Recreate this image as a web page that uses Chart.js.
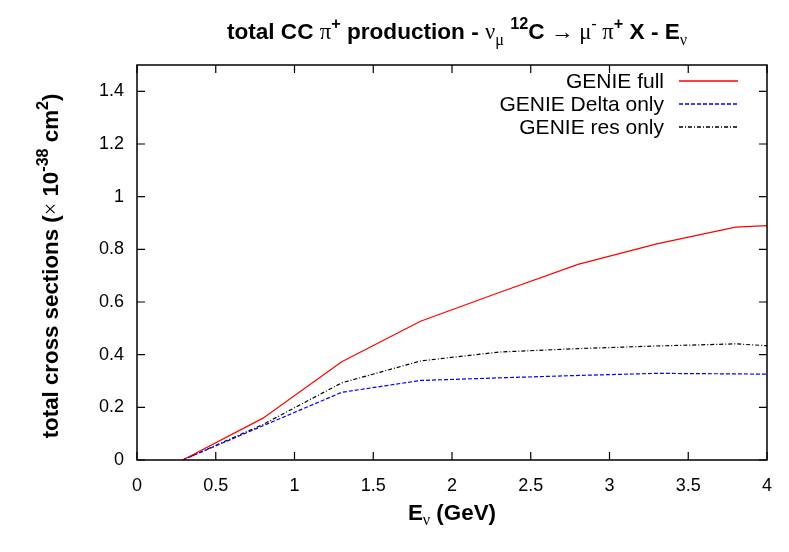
<!DOCTYPE html>
<html><head><meta charset="utf-8">
<script src="https://cdn.jsdelivr.net/npm/chart.js@4/dist/chart.umd.min.js"></script>
<style>html,body{margin:0;padding:0;background:#fff}#wrap{width:789px;height:552px}</style>
</head><body><div id="wrap"><canvas id="c" width="789" height="552"></canvas></div>
<script>
const energies = [0.29, 0.8, 1.3, 1.8, 2.3, 2.8, 3.3, 3.8, 4.0];
const genieFull = [0, 0.159, 0.373, 0.527, 0.636, 0.743, 0.821, 0.884, 0.890];
const genieDelta = [0, 0.130, 0.257, 0.302, 0.312, 0.321, 0.329, 0.327, 0.326];
const genieRes = [0, 0.135, 0.293, 0.376, 0.410, 0.423, 0.433, 0.441, 0.434];
const seriesLabels = ['GENIE full', 'GENIE Delta only', 'GENIE res only'];
const seriesColors = ['#ff0000', '#0000ff', '#000000'];
const seriesDashes = [[], [4,2], [4,2,1,2]];
const xTicks = [0, 0.5, 1, 1.5, 2, 2.5, 3, 3.5, 4];
const yTicks = [0, 0.2, 0.4, 0.6, 0.8, 1, 1.2, 1.4];

const SANS = '"Liberation Sans", Arial, Helvetica, sans-serif';
const SERIF = '"Liberation Serif", "Times New Roman", serif';

function pts(ys){ return energies.map((x,i)=>({x:x,y:ys[i]})); }

function fontFor(r,size){
  const s = (r[1]==='sup'||r[1]==='sub') ? size*0.72 : size;
  return (r[2]?'bold ':'') + s.toFixed(1)+'px '+(r[3]?SERIF:SANS);
}
function richWidth(ctx, runs, size){
  let w=0;
  runs.forEach(r=>{ ctx.font = fontFor(r,size); w+=ctx.measureText(r[0]).width; });
  return w;
}
function drawRich(ctx, runs, size, cx, cy){
  const total = richWidth(ctx, runs, size);
  let x = cx - total/2;
  ctx.textBaseline='middle'; ctx.textAlign='left'; ctx.fillStyle='#000';
  runs.forEach(r=>{
    ctx.font = fontFor(r,size);
    let dy = 0;
    if(r[1]==='sup') dy = -size*0.38;
    if(r[1]==='sub') dy = size*0.32;
    ctx.fillText(r[0], x, cy+dy);
    x += ctx.measureText(r[0]).width;
  });
}

const titleRuns = [
  ['total CC ','n',true,false],['π','n',false,true],['+','sup',true,false],
  [' production - ','n',true,false],['ν','n',false,true],['μ','sub',false,true],
  [' ','n',true,false],['12','sup',true,false],['C ','n',true,false],['→','n',false,true],
  [' μ','n',false,true],['-','sup',false,false],[' π','n',false,true],['+','sup',true,false],
  [' X - E','n',true,false],['ν','sub',false,true]
];
const yTitleRuns = [
  ['total cross sections (','n',true,false],['×','n',false,true],[' 10','n',true,false],
  ['-38','sup',true,false],[' cm','n',true,false],['2','sup',true,false],[')','n',true,false]
];
const xTitleRuns = [['E','n',true,false],['ν','sub',false,true],[' (GeV)','n',true,false]];

const decor = {
  id:'decor',
  afterDraw(chart){
    const ctx = chart.ctx, a = chart.chartArea;
    const xs = chart.scales.x, ys = chart.scales.y;
    ctx.save();
    ctx.strokeStyle='#000'; ctx.lineWidth=1.5;
    ctx.strokeRect(a.left, a.top, a.right-a.left, a.bottom-a.top);
    ctx.lineWidth=1.2;
    const L=8;
    ctx.beginPath();
    xTicks.forEach(v=>{ const p=xs.getPixelForValue(v);
      ctx.moveTo(p,a.bottom); ctx.lineTo(p,a.bottom-L);
      ctx.moveTo(p,a.top); ctx.lineTo(p,a.top+L); });
    yTicks.forEach(v=>{ const p=ys.getPixelForValue(v);
      ctx.moveTo(a.left,p); ctx.lineTo(a.left+L,p);
      ctx.moveTo(a.right,p); ctx.lineTo(a.right-L,p); });
    ctx.stroke();
    drawRich(ctx, titleRuns, 22.6, 457, 33);
    drawRich(ctx, xTitleRuns, 22.4, 452, 514);
    ctx.save();
    ctx.translate(52, 266);
    ctx.rotate(-Math.PI/2);
    drawRich(ctx, yTitleRuns, 22.3, 0, 0);
    ctx.restore();
    const rowsY=[81,104,127];
    seriesLabels.forEach((lab,i)=>{
      ctx.font='21px '+SANS; ctx.textAlign='right'; ctx.textBaseline='middle'; ctx.fillStyle='#000';
      ctx.fillText(lab, 664, rowsY[i]+1);
      ctx.strokeStyle=seriesColors[i]; ctx.lineWidth=1.3; ctx.setLineDash(seriesDashes[i]);
      ctx.beginPath(); ctx.moveTo(679,rowsY[i]); ctx.lineTo(738,rowsY[i]); ctx.stroke();
      ctx.setLineDash([]);
    });
    ctx.restore();
  }
};

new Chart(document.getElementById('c'), {
  type:'line',
  data:{ datasets:[
    {label:seriesLabels[0], data:pts(genieFull), borderColor:seriesColors[0], borderWidth:1.2, borderDash:seriesDashes[0], pointRadius:0, tension:0},
    {label:seriesLabels[1], data:pts(genieDelta), borderColor:seriesColors[1], borderWidth:1.2, borderDash:seriesDashes[1], pointRadius:0, tension:0},
    {label:seriesLabels[2], data:pts(genieRes), borderColor:seriesColors[2], borderWidth:1.2, borderDash:seriesDashes[2], pointRadius:0, tension:0}
  ]},
  options:{
    responsive:false, animation:false, devicePixelRatio:1,
    layout:{padding:{top:65,right:22,left:0,bottom:0}},
    plugins:{legend:{display:false}, title:{display:false}, tooltip:{enabled:false}},
    scales:{
      x:{type:'linear', min:0, max:4, border:{display:false}, grid:{display:false},
        afterBuildTicks:s=>{s.ticks=xTicks.map(v=>({value:v}));},
        afterFit:s=>{s.height=92;},
        ticks:{padding:7, maxRotation:0, autoSkip:false, color:'#000', font:{family:SANS,size:18}, callback:v=>String(v)}},
      y:{type:'linear', min:0, max:1.5, border:{display:false}, grid:{display:false},
        afterBuildTicks:s=>{s.ticks=yTicks.map(v=>({value:v}));},
        afterFit:s=>{s.width=137;},
        ticks:{padding:5, autoSkip:false, color:'#000', font:{family:SANS,size:18}, callback:v=>String(v)}}
    }
  },
  plugins:[decor]
});
</script></body></html>
